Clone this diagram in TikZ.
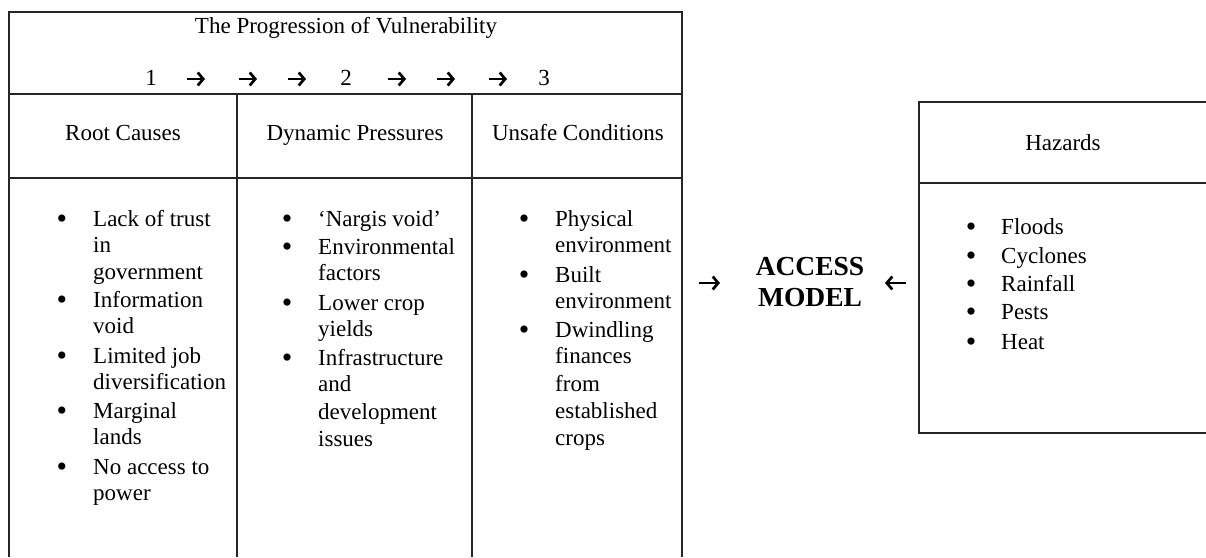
\documentclass[tikz,border=0pt]{standalone}
\usepackage{fontspec}
\setmainfont{Liberation Serif}
\usetikzlibrary{arrows.meta}
\begin{document}
\begin{tikzpicture}[x=1pt,y=-1pt,
  frame/.style={line width=1.4pt, draw=black!85},
  txt/.style={font=\fontsize{23}{26.5}\selectfont, inner sep=0pt, anchor=base west},
  ctr/.style={font=\fontsize{23}{26.5}\selectfont, inner sep=0pt, anchor=base},
  bul/.style={font=\fontsize{30}{30}\selectfont, inner sep=0pt, anchor=base, yshift=-2.5pt},
  arrline/.style={line width=2.7pt, -{Straight Barb[length=5.5pt,width=13pt]}},
  big/.style={font=\bfseries\fontsize{27.5}{31}\selectfont, inner sep=0pt, anchor=base},
]
\useasboundingbox (0,0) rectangle (1206,557);
% table frame
\draw[frame] (9,557) -- (9,12) -- (682,12) -- (682,557);
\draw[frame] (9,94) -- (682,94);
\draw[frame] (9,178) -- (682,178);
\draw[frame] (237,94) -- (237,557);
\draw[frame] (472,94) -- (472,557);
% hazards box
\draw[frame] (1206,102) -- (919,102) -- (919,433) -- (1206,433);
\draw[frame] (919,183) -- (1206,183);
% title
\node[ctr] (title) at (346,33) {The Progression of Vulnerability};
\node[ctr] (n1) at (151,85) {1};
\node[ctr] (n2) at (346,85) {2};
\node[ctr] (n3) at (544,85) {3};
\foreach \i/\cx in {1/196,2/248,3/297,4/397,5/446,6/498}{
  \coordinate (p\i s) at (\cx-9,79);
  \coordinate (p\i e) at (\cx+9,79);
  \draw[arrline] (p\i s) -- (p\i e);
}
% headers
\node[ctr] (h1) at (123,140) {Root Causes};
\node[ctr] (h2) at (355,140) {Dynamic Pressures};
\node[ctr] (h3) at (578,140) {Unsafe Conditions};
\node[ctr] (h4) at (1063,150) {Hazards};
% column 1
\node[bul] (b11) at (62,226) {•};
\node[txt] (t11a) at (93,226) {Lack of trust};
\node[txt] (t11b) at (93,252) {in};
\node[txt] (t11c) at (93,279) {government};
\node[bul] (b12) at (62,307) {•};
\node[txt] (t12a) at (93,307) {Information};
\node[txt] (t12b) at (93,333) {void};
\node[bul] (b13) at (62,363) {•};
\node[txt] (t13a) at (93,363) {Limited job};
\node[txt] (t13b) at (93,389) {diversification};
\node[bul] (b14) at (62,418) {•};
\node[txt] (t14a) at (93,418) {Marginal};
\node[txt] (t14b) at (93,444) {lands};
\node[bul] (b15) at (62,474) {•};
\node[txt] (t15a) at (93,474) {No access to};
\node[txt] (t15b) at (93,500) {power};
% column 2
\node[bul] (b21) at (287,226) {•};
\node[txt] (t21a) at (318,226) {‘Nargis void’};
\node[bul] (b22) at (287,254) {•};
\node[txt] (t22a) at (318,254) {Environmental};
\node[txt] (t22b) at (318,280) {factors};
\node[bul] (b23) at (287,310) {•};
\node[txt] (t23a) at (318,310) {Lower crop};
\node[txt] (t23b) at (318,336) {yields};
\node[bul] (b24) at (287,365) {•};
\node[txt] (t24a) at (318,365) {Infrastructure};
\node[txt] (t24b) at (318,391) {and};
\node[txt] (t24c) at (318,419) {development};
\node[txt] (t24d) at (318,446) {issues};
% column 3
\node[bul] (b31) at (524,226) {•};
\node[txt] (t31a) at (555,226) {Physical};
\node[txt] (t31b) at (555,252) {environment};
\node[bul] (b32) at (524,282) {•};
\node[txt] (t32a) at (555,282) {Built};
\node[txt] (t32b) at (555,308) {environment};
\node[bul] (b33) at (524,337) {•};
\node[txt] (t33a) at (555,337) {Dwindling};
\node[txt] (t33b) at (555,363) {finances};
\node[txt] (t33c) at (555,391) {from};
\node[txt] (t33d) at (555,418) {established};
\node[txt] (t33e) at (555,445) {crops};
% hazards
\node[bul] (b41) at (971,234) {•};
\node[txt] (t41) at (1001,234) {Floods};
\node[bul] (b42) at (971,263) {•};
\node[txt] (t42) at (1001,263) {Cyclones};
\node[bul] (b43) at (971,291) {•};
\node[txt] (t43) at (1001,291) {Rainfall};
\node[bul] (b44) at (971,319) {•};
\node[txt] (t44) at (1001,319) {Pests};
\node[bul] (b45) at (971,349) {•};
\node[txt] (t45) at (1001,349) {Heat};
% access model
\node[big] (acc1) at (810,275) {ACCESS};
\node[big] (acc2) at (810,306) {MODEL};
\coordinate (als) at (699,283);
\coordinate (ale) at (720,283);
\coordinate (ars) at (906,283);
\coordinate (are) at (885,283);
\draw[arrline] (als) -- (ale);
\draw[arrline] (ars) -- (are);
\end{tikzpicture}
\end{document}
